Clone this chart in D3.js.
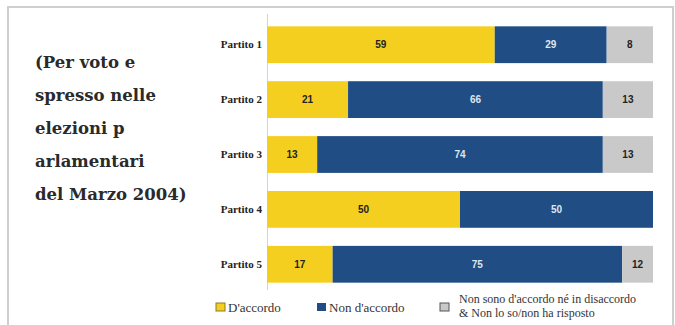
<!DOCTYPE html>
<html><head><meta charset="utf-8">
<script src="https://cdn.jsdelivr.net/npm/d3@7"></script>
<style>
html,body{margin:0;padding:0;background:#fff;}
svg{display:block;}
.serif{font-family:"DejaVu Serif",serif;}
.serif2{font-family:"Liberation Serif",serif;}
.sans{font-family:"Liberation Sans",Arial,Helvetica,sans-serif;}
</style>
</head><body>
<svg id="chart" width="675" height="325"></svg>
<script>
const categories = ["Partito 1","Partito 2","Partito 3","Partito 4","Partito 5"];
const accordo = [59,21,13,50,17];
const nonAccordo = [29,66,74,50,75];
const neutro = [8,13,13,0,12];
const seriesNames = ["D'accordo","Non d'accordo","Non sono d'accordo né in disaccordo","& Non lo so/non ha risposto"];
const colors = ["#f5cf1f","#1f4d84","#c9c9c9"];
const titleLines = ["(Per voto e","spresso nelle","elezioni p","arlamentari","del Marzo 2004)"];

const svg = d3.select("#chart");
svg.append("rect").attr("x",8).attr("y",7).attr("width",665).attr("height",330)
  .attr("fill","none").attr("stroke","#cfcfcf").attr("stroke-width",2);

const tt = svg.append("text").attr("class","serif")
  .attr("font-weight","bold").attr("font-size",16.5).attr("fill","#2a2a2a");
titleLines.forEach((l,i)=>{
  tt.append("tspan").attr("x",35).attr("y",68+i*33).text(l);
});

const x = d3.scaleLinear().domain([0,100]).range([267,653]);
const y = d3.scaleBand().domain(categories).range([17,292]).paddingInner(0.33).paddingOuter(0.17);

svg.append("line").attr("x1",267.5).attr("x2",267.5).attr("y1",14).attr("y2",290)
  .attr("stroke","#d4d4d4").attr("stroke-width",1);

const g = svg.append("g");
categories.forEach((c,i)=>{
  const segs = [
    {x0:0, x1:accordo[i], v:accordo[i], k:0},
    {x0:accordo[i], x1:accordo[i]+nonAccordo[i], v:nonAccordo[i], k:1},
    {x0:accordo[i]+nonAccordo[i], x1:100, v:neutro[i], k:2}
  ];
  segs.forEach(s=>{
    if (s.v<=0) return;
    g.append("rect").attr("x",x(s.x0)).attr("y",y(c))
      .attr("width",x(s.x1)-x(s.x0)).attr("height",y.bandwidth())
      .attr("fill",colors[s.k]);
    g.append("text").attr("class","sans").attr("x",(x(s.x0)+x(s.x1))/2).attr("y",y(c)+y.bandwidth()/2+3.5)
      .attr("text-anchor","middle")
      .attr("font-weight","bold").attr("font-size",10)
      .attr("fill", s.k===1 ? "#dfe6f0" : "#222").text(s.v);
  });
});

const yAxis = d3.axisLeft(y).tickSize(0).tickPadding(5);
const ya = svg.append("g").attr("transform","translate(267,0)").call(yAxis);
ya.select(".domain").remove();
ya.attr("font-family",null);
ya.selectAll("text").attr("class","serif2").attr("font-weight","bold")
  .attr("font-size",11).attr("fill","#222");

const leg = svg.append("g").attr("class","serif2").attr("fill","#333");
const legItems = [
  {x:216, c:colors[0], lines:[seriesNames[0]]},
  {x:317, c:colors[1], lines:[seriesNames[1]]},
  {x:440, c:colors[2], lines:[seriesNames[2],seriesNames[3]]}
];
legItems.forEach(d=>{
  leg.append("rect").attr("x",d.x).attr("y",303).attr("width",9).attr("height",8)
    .attr("fill",d.c).attr("stroke", d.c===colors[2] ? "#555" : "#8a7a2a").attr("stroke-width", d.c===colors[1]?0:1);
  d.lines.forEach((l,j)=>{
    const single = d.lines.length===1;
    leg.append("text").attr("x",d.x+(single?12:19)).attr("y",single ? 312 : 303 + j*13.5)
      .attr("font-size", single ? 13 : 12).text(l);
  });
});
</script>
</body></html>
